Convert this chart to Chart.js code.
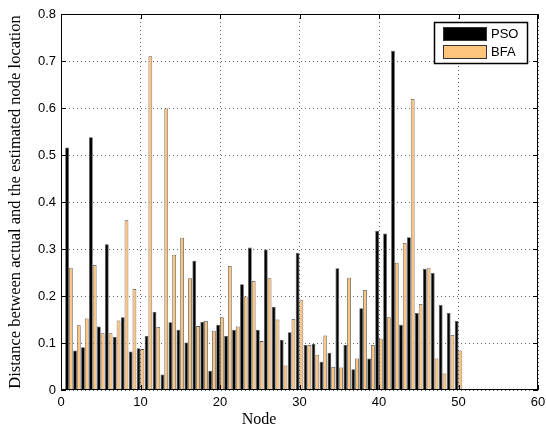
<!DOCTYPE html>
<html>
<head>
<meta charset="utf-8">
<script src="https://cdn.jsdelivr.net/npm/chart.js@4.4.1/dist/chart.umd.min.js"></script>
<style>
  html, body { margin: 0; padding: 0; background: #fff; }
  #wrap { width: 546px; height: 427px; }
</style>
</head>
<body>
<div id="wrap"><canvas id="chart" width="546" height="427"></canvas></div>
<script>
// data
const nodes = Array.from({length: 50}, (_, i) => i + 1);
const psoErr = [0.516, 0.084, 0.091, 0.538, 0.135, 0.310, 0.113, 0.155, 0.082, 0.089,
                0.115, 0.166, 0.033, 0.144, 0.128, 0.101, 0.275, 0.145, 0.041, 0.139,
                0.115, 0.128, 0.225, 0.303, 0.128, 0.299, 0.177, 0.107, 0.123, 0.292,
                0.096, 0.098, 0.060, 0.079, 0.259, 0.096, 0.044, 0.174, 0.067, 0.339,
                0.333, 0.722, 0.139, 0.325, 0.164, 0.258, 0.249, 0.181, 0.164, 0.147];
const bfaErr = [0.260, 0.138, 0.152, 0.266, 0.121, 0.121, 0.148, 0.361, 0.215, 0.087,
                0.710, 0.134, 0.599, 0.288, 0.324, 0.238, 0.136, 0.147, 0.126, 0.155,
                0.264, 0.135, 0.199, 0.232, 0.104, 0.238, 0.150, 0.052, 0.151, 0.192,
                0.096, 0.075, 0.116, 0.049, 0.048, 0.239, 0.067, 0.213, 0.096, 0.109,
                0.155, 0.271, 0.313, 0.619, 0.183, 0.260, 0.067, 0.035, 0.117, 0.084];
const xTicks = [0, 10, 20, 30, 40, 50, 60];
const yTicks = [0, 0.1, 0.2, 0.3, 0.4, 0.5, 0.6, 0.7, 0.8];
const seriesNames = ['PSO', 'BFA'];
const seriesColors = ['#000000', '#FFC47C'];

const SANS = '"Liberation Sans", Arial, sans-serif';
const SERIF = '"Liberation Serif", "Times New Roman", serif';

// matlab style frame, inward ticks, x label and boxed legend
const matlabFrame = {
  id: 'matlabFrame',
  afterDraw(chart) {
    const {ctx, chartArea: a, scales: {x, y}} = chart;
    ctx.save();
    ctx.strokeStyle = '#000';
    ctx.lineWidth = 1;
    ctx.strokeRect(Math.round(a.left) + 0.5, Math.round(a.top) + 0.5,
                   Math.round(a.right - a.left) - 1, Math.round(a.bottom - a.top) - 1);
    ctx.beginPath();
    xTicks.forEach(v => {
      const px = Math.round(x.getPixelForValue(v)) + 0.5;
      ctx.moveTo(px, a.bottom); ctx.lineTo(px, a.bottom - 5);
      ctx.moveTo(px, a.top); ctx.lineTo(px, a.top + 5);
    });
    yTicks.forEach(v => {
      const py = Math.round(y.getPixelForValue(v)) + 0.5;
      ctx.moveTo(a.left, py); ctx.lineTo(a.left + 5, py);
      ctx.moveTo(a.right, py); ctx.lineTo(a.right - 5, py);
    });
    ctx.stroke();

    // x axis title (matlab puts it a bit left of centre here)
    ctx.fillStyle = '#000';
    ctx.font = '16px ' + SERIF;
    ctx.textAlign = 'center';
    ctx.textBaseline = 'middle';
    ctx.fillText('Node', 259, 420);

    // legend
    const lx = 434, ly = 22, lw = 93, lh = 41;
    ctx.fillStyle = '#fff';
    ctx.fillRect(lx, ly, lw, lh);
    ctx.strokeStyle = '#000';
    ctx.lineWidth = 1.5;
    ctx.strokeRect(lx + 0.5, ly + 0.5, lw, lh);
    ctx.lineWidth = 1;
    ctx.font = '13px ' + SANS;
    ctx.textAlign = 'left';
    chart.data.datasets.forEach((ds, i) => {
      const top = ly + 5 + i * 18;
      ctx.fillStyle = ds.backgroundColor;
      ctx.fillRect(443, top, 44, 14);
      ctx.strokeStyle = '#333';
      ctx.strokeRect(443.5, top + 0.5, 43, 13);
      ctx.fillStyle = '#000';
      ctx.fillText(ds.label, 491, top + 7.5);
    });
    ctx.restore();
  }
};

new Chart(document.getElementById('chart'), {
  type: 'bar',
  data: {
    datasets: seriesNames.map((name, i) => ({
      label: name,
      data: nodes.map((n, k) => ({x: n, y: (i === 0 ? psoErr : bfaErr)[k]})),
      backgroundColor: seriesColors[i],
      borderColor: 'rgba(50,50,50,0.85)',
      borderWidth: 0.8,
      categoryPercentage: 0.95,
      barPercentage: 1.0
    }))
  },
  options: {
    responsive: false,
    animation: false,
    layout: { padding: { top: 14, right: 8, left: 0, bottom: 0 } },
    plugins: { legend: { display: false }, tooltip: { enabled: false } },
    scales: {
      x: {
        type: 'linear',
        min: 0, max: 60,
        offset: false,
        afterBuildTicks: s => { s.ticks = xTicks.map(v => ({value: v})); },
        afterFit: s => { s.height = 37; s.paddingLeft = 0; s.paddingRight = 0; },
        ticks: { color: '#000', font: { family: SANS, size: 13 }, padding: 5, maxRotation: 0 },
        grid: { color: '#666', lineWidth: 1, drawTicks: false, offset: false },
        border: { display: false, dash: [1, 3] }
      },
      y: {
        min: 0, max: 0.8,
        afterBuildTicks: s => { s.ticks = yTicks.map(v => ({value: v})); },
        afterFit: s => { s.width = 61; s.paddingTop = 0; s.paddingBottom = 0; },
        ticks: {
          color: '#000', font: { family: SANS, size: 13 }, padding: 5,
          callback: v => v === 0 ? '0' : v.toFixed(1)
        },
        grid: { color: '#666', lineWidth: 1, drawTicks: false },
        border: { display: false, dash: [1, 3] },
        title: {
          display: true,
          text: 'Distance between actual and the estimated node location',
          color: '#000',
          font: { family: SERIF, size: 16.5 },
          padding: { top: 6, bottom: 2 }
        }
      }
    }
  },
  plugins: [matlabFrame]
});
</script>
</body>
</html>
